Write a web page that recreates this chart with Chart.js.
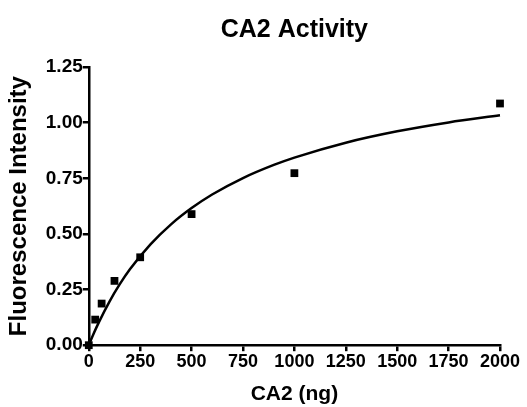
<!DOCTYPE html>
<html>
<head>
<meta charset="utf-8">
<script src="https://cdn.jsdelivr.net/npm/chart.js@4/dist/chart.umd.min.js"></script>
<style>
  html, body { margin: 0; padding: 0; background: #fff; }
  canvas { display: block; }
</style>
</head>
<body>
<canvas id="chart" width="527" height="407"></canvas>
<script>
// measured points (CA2 in ng vs fluorescence)
const doseNg = [0, 31.25, 62.5, 125, 250, 500, 1000, 2000];
const intensity = [0.0, 0.115, 0.187, 0.289, 0.395, 0.589, 0.773, 1.086];

// fitted curve
const fitX = [0, 25, 50, 100, 150, 200, 300, 400, 500, 600, 750, 900, 1000, 1250, 1500, 1750, 2000];
const fitY = [0, 0.055, 0.105, 0.195, 0.273, 0.341, 0.453, 0.543, 0.616, 0.677, 0.751, 0.810, 0.843, 0.910, 0.961, 1.001, 1.033];

const xTicks = [0, 250, 500, 750, 1000, 1250, 1500, 1750, 2000];
const yTicks = [0, 0.25, 0.5, 0.75, 1.0, 1.25];

const font = "'Liberation Sans', Arial, Helvetica, sans-serif";

document.addEventListener("DOMContentLoaded", function () {
    const ctx = document.getElementById("chart").getContext("2d");

    const axisStyle = {
        grid: { display: true, drawOnChartArea: false, drawTicks: true, tickLength: 6, color: "#000", lineWidth: 2.5 },
        border: { display: true, color: "#000", width: 2.5 }
    };

    new Chart(ctx, {
        type: "scatter",
        data: {
            datasets: [
                {
                    label: "fit",
                    data: fitX.map((x, i) => ({ x, y: fitY[i] })),
                    showLine: true,
                    borderColor: "#000",
                    borderWidth: 2.5,
                    pointRadius: 0,
                    cubicInterpolationMode: "monotone",
                    clip: false
                },
                {
                    label: "CA2",
                    data: doseNg.map((x, i) => ({ x, y: intensity[i] })),
                    pointStyle: "rect",
                    pointRadius: 5.5,
                    backgroundColor: "#000",
                    borderColor: "#000",
                    borderWidth: 0,
                    clip: false
                }
            ]
        },
        options: {
            responsive: false,
            animation: false,
            layout: { padding: { left: 5, right: 27, top: 0, bottom: 0 } },
            plugins: {
                legend: { display: false },
                tooltip: { enabled: false },
                title: {
                    display: true,
                    fullSize: false,
                    text: "CA2 Activity",
                    color: "#000",
                    font: { family: font, size: 25, weight: "bold" },
                    padding: { top: 15, bottom: 22 }
                }
            },
            scales: {
                x: {
                    type: "linear",
                    min: 0,
                    max: 2000,
                    afterBuildTicks: axis => { axis.ticks = xTicks.map(v => ({ value: v })); },
                    ticks: { color: "#000", font: { family: font, size: 18, weight: "bold" }, padding: 0, maxRotation: 0, callback: v => String(v) },
                    title: { display: true, text: "CA2 (ng)", color: "#000", font: { family: font, size: 21, weight: "bold" }, padding: { top: 9, bottom: 0 } },
                    ...axisStyle
                },
                y: {
                    type: "linear",
                    min: 0,
                    max: 1.25,
                    afterBuildTicks: axis => { axis.ticks = yTicks.map(v => ({ value: v })); },
                    ticks: { color: "#000", font: { family: font, size: 19, weight: "bold" }, padding: 0, callback: v => v.toFixed(2) },
                    title: { display: true, text: "Fluorescence Intensity", color: "#000", font: { family: font, size: 24, weight: "bold" }, padding: { top: 0, bottom: 12 } },
                    ...axisStyle
                }
            }
        }
    });
});
</script>
</body>
</html>
